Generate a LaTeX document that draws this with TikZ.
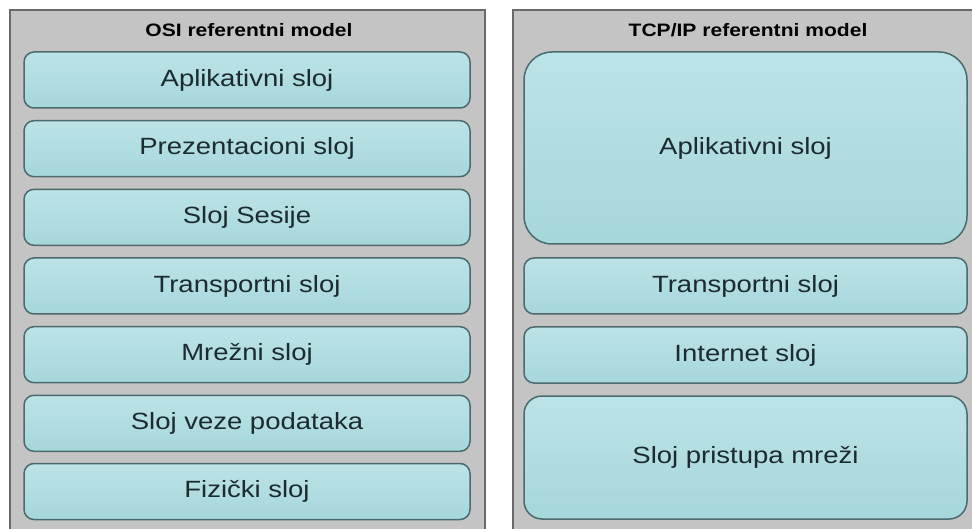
\documentclass[tikz,border=0pt]{standalone}
\usepackage{fontspec}
\setmainfont{Liberation Sans}[FakeStretch=1.17]
\definecolor{panelfill}{HTML}{C4C4C4}
\definecolor{paneldraw}{HTML}{6A6A6A}
\definecolor{boxtop}{HTML}{BCE3E7}
\definecolor{boxbot}{HTML}{A6D7DB}
\definecolor{boxdraw}{HTML}{4C6A6E}
\definecolor{txt}{HTML}{1B2B2F}
\tikzset{
  panel/.style={fill=panelfill, draw=paneldraw, line width=1.2pt},
  layer/.style={draw=boxdraw, line width=1.5pt, top color=boxtop, bottom color=boxbot,
    rounded corners=10pt, inner sep=0pt, text=txt,
    font=\fontsize{23.5}{27}\selectfont},
  ptitle/.style={font=\bfseries\fontsize{18}{21}\selectfont, text=black, inner sep=0pt},
}
\begin{document}
\begin{tikzpicture}[x=1pt,y=-1pt]
\useasboundingbox (0,0) rectangle (972,529);
\fill[white] (0,0) rectangle (972,529);
\clip (0,0) rectangle (972,529);
% panels
\draw[panel] (10,10) rectangle (485,540);
\draw[panel] (513,10) rectangle (985,540);
\node[ptitle] (t1) at (249,30) {OSI referentni model};
\node[ptitle] (t2) at (748,30) {TCP/IP referentni model};
% OSI layers
\node[layer, minimum width=446pt, minimum height=56pt] (o7) at (247,80) {Aplikativni sloj};
\node[layer, minimum width=446pt, minimum height=56pt] (o6) at (247,148.7) {Prezentacioni sloj};
\node[layer, minimum width=446pt, minimum height=56pt] (o5) at (247,217.3) {Sloj Sesije};
\node[layer, minimum width=446pt, minimum height=56pt] (o4) at (247,286) {Transportni sloj};
\node[layer, minimum width=446pt, minimum height=56pt] (o3) at (247,354.7) {Mrežni sloj};
\node[layer, minimum width=446pt, minimum height=56pt] (o2) at (247,423.3) {Sloj veze podataka};
\node[layer, minimum width=446pt, minimum height=56pt] (o1) at (247,491.5) {Fizički sloj};
% TCP/IP layers
\node[layer, rounded corners=28pt, minimum width=443pt, minimum height=192pt] (ta) at (745.5,148) {Aplikativni sloj};
\node[layer, minimum width=443pt, minimum height=56pt] (tt) at (745.5,286) {Transportni sloj};
\node[layer, minimum width=443pt, minimum height=56pt] (ti) at (745.5,355) {Internet sloj};
\node[layer, rounded corners=18pt, minimum width=443pt, minimum height=123pt] (ts) at (745.5,457.5) {Sloj pristupa mreži};
\end{tikzpicture}
\end{document}
